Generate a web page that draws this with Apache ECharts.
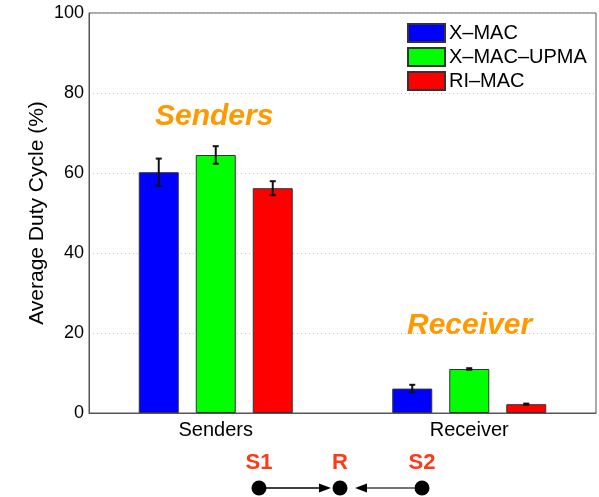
<!DOCTYPE html>
<html>
<head>
<meta charset="utf-8">
<script src="https://cdn.jsdelivr.net/npm/echarts@6/dist/echarts.min.js"></script>
<style>
  html, body { margin: 0; padding: 0; background: #ffffff; }
  #chart { width: 599px; height: 497px; }
</style>
</head>
<body>
<div id="chart"></div>
<script>
// Node roles on the x axis
var categories = ['Senders', 'Receiver'];

// Protocol names
var protocols = ['X–MAC', 'X–MAC–UPMA', 'RI–MAC'];

// Average duty cycle (%) per protocol, one value per node role
var xmacDuty = [60.2, 6.1];
var upmaDuty = [64.5, 11.0];
var rimacDuty = [56.2, 2.2];

// Half-width of the error bars (%)
var xmacErr = [3.4, 0.95];
var upmaErr = [2.2, 0.2];
var rimacErr = [1.75, 0.15];

// Y axis ticks
var yTicks = [0, 20, 40, 60, 80, 100];

var FONT = '"Liberation Sans", Arial, Helvetica, sans-serif';
var colors = ['#0000ff', '#00ff00', '#ff0000'];
var BAR_W = 40;
var BAR_GAP = 17;

var duty = [xmacDuty, upmaDuty, rimacDuty];
var errs = [xmacErr, upmaErr, rimacErr];

// Error-bar records: [category index, series index, low, high]
var errData = [];
for (var s = 0; s < duty.length; s++) {
  for (var c = 0; c < categories.length; c++) {
    errData.push([c, s, duty[s][c] - errs[s][c], duty[s][c] + errs[s][c]]);
  }
}

function renderError(params, api) {
  var cat = api.value(0);
  var sIdx = api.value(1);
  var lo = api.coord([cat, api.value(2)]);
  var hi = api.coord([cat, api.value(3)]);
  var x = lo[0] + (sIdx - 1) * (BAR_W + BAR_GAP);
  var cap = 3;
  var st = { stroke: '#111', lineWidth: 2 };
  return {
    type: 'group',
    children: [
      { type: 'line', shape: { x1: x, y1: lo[1], x2: x, y2: hi[1] }, style: st },
      { type: 'line', shape: { x1: x - cap, y1: lo[1], x2: x + cap, y2: lo[1] }, style: st },
      { type: 'line', shape: { x1: x - cap, y1: hi[1], x2: x + cap, y2: hi[1] }, style: st }
    ]
  };
}

var barSeries = protocols.map(function (name, i) {
  return {
    name: name,
    type: 'bar',
    data: duty[i],
    barWidth: BAR_W,
    barGap: (BAR_GAP / BAR_W * 100) + '%',
    itemStyle: { color: colors[i], borderColor: '#333', borderWidth: 1 },
    emphasis: { disabled: true }
  };
});

// Node diagram under the chart: S1 -> R <- S2
var nodeY = 488;
var nodes = [
  { label: 'S1', x: 259 },
  { label: 'R', x: 340 },
  { label: 'S2', x: 422 }
];
var diagram = [];
nodes.forEach(function (n) {
  diagram.push({
    type: 'text',
    style: { text: n.label, x: n.x, y: 463, font: 'bold 22px ' + FONT, fill: '#fb3b17', align: 'center', verticalAlign: 'middle' }
  });
  diagram.push({
    type: 'circle',
    shape: { cx: n.x, cy: nodeY, r: 7.5 },
    style: { fill: '#000' }
  });
});
// S1 -> R
diagram.push({ type: 'line', shape: { x1: 266, y1: nodeY, x2: 322, y2: nodeY }, style: { stroke: '#000', lineWidth: 1.3 } });
diagram.push({ type: 'polygon', shape: { points: [[331, nodeY], [319, nodeY - 4.5], [319, nodeY + 4.5]] }, style: { fill: '#000' } });
// S2 -> R
diagram.push({ type: 'line', shape: { x1: 415, y1: nodeY, x2: 364, y2: nodeY }, style: { stroke: '#444', lineWidth: 1.3 } });
diagram.push({ type: 'polygon', shape: { points: [[355, nodeY], [367, nodeY - 4.5], [367, nodeY + 4.5]] }, style: { fill: '#000' } });

var chart = echarts.init(document.getElementById('chart'), null, { renderer: 'canvas' });
chart.setOption({
  backgroundColor: '#ffffff',
  animation: false,
  textStyle: { fontFamily: FONT },
  grid: {
    left: 89, right: 3, top: 13, bottom: 84,
    show: true, borderColor: '#555', borderWidth: 1, backgroundColor: '#ffffff'
  },
  legend: {
    orient: 'vertical',
    left: 407, top: 23,
    padding: 0,
    itemWidth: 37, itemHeight: 18, itemGap: 4,
    icon: 'rect',
    data: protocols,
    textStyle: { fontSize: 20, color: '#000', fontFamily: FONT, padding: [0, 0, 0, -1] }
  },
  xAxis: {
    type: 'category',
    data: categories,
    axisLine: { lineStyle: { color: '#555', width: 1 } },
    axisTick: { show: false },
    axisLabel: { fontSize: 20, color: '#000', margin: 7, fontFamily: FONT }
  },
  yAxis: {
    type: 'value',
    min: yTicks[0], max: yTicks[yTicks.length - 1], interval: 20,
    name: 'Average Duty Cycle (%)',
    nameLocation: 'middle',
    nameGap: 41,
    nameMoveOverlap: false,
    nameTextStyle: { fontSize: 21, color: '#000', fontFamily: FONT },
    axisLine: { show: true, lineStyle: { color: '#555', width: 1 } },
    axisTick: { show: false },
    axisLabel: { fontSize: 18, color: '#000', margin: 5, fontFamily: FONT },
    splitLine: { show: true, lineStyle: { color: '#c4c4c4', type: [1, 3], width: 1 } }
  },
  series: barSeries.concat([{
    type: 'custom',
    name: 'error',
    renderItem: renderError,
    data: errData,
    encode: { x: 0, y: [2, 3] },
    z: 5,
    silent: true
  }]),
  graphic: [
    { type: 'text', style: { text: 'Senders', x: 155, y: 117, font: 'italic bold 30px ' + FONT, fill: '#ff9900', verticalAlign: 'middle' } },
    { type: 'text', style: { text: 'Receiver', x: 407, y: 326, font: 'italic bold 30px ' + FONT, fill: '#ff9900', verticalAlign: 'middle' } }
  ].concat(diagram)
});
</script>
</body>
</html>
